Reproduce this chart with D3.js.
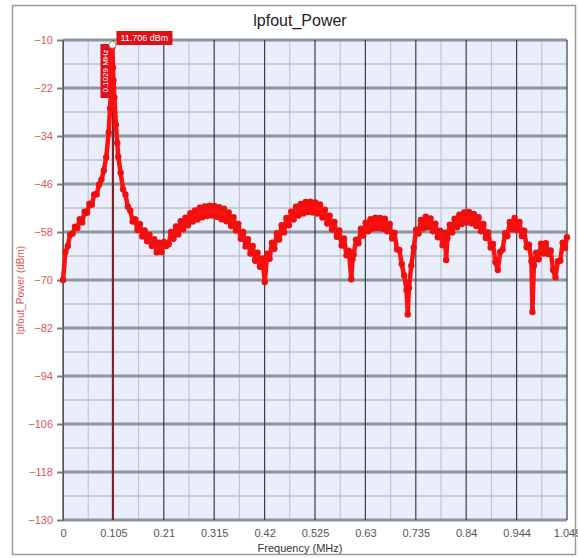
<!DOCTYPE html>
<html>
<head>
<meta charset="utf-8">
<script src="https://cdn.jsdelivr.net/npm/d3@7"></script>
<style>
  body { margin: 0; background: #fff; }
  svg { display: block; font-family: "Liberation Sans", Arial, sans-serif; }
</style>
</head>
<body>
<div id="app"></div>
<script>
// sweep (MHz / dBm)
const freqMHz = [
  0, 0.005, 0.010, 0.015, 0.020, 0.025, 0.030, 0.035, 0.040, 0.045,
  0.050, 0.055, 0.060, 0.065, 0.070, 0.075, 0.080, 0.085, 0.090, 0.095,
  0.098, 0.100, 0.1015, 0.1029, 0.104, 0.105, 0.107, 0.110, 0.113, 0.115,
  0.120, 0.125, 0.130, 0.135, 0.140, 0.145, 0.150, 0.155, 0.160, 0.165,
  0.170, 0.175, 0.180, 0.185, 0.190, 0.195, 0.200, 0.205, 0.210, 0.215,
  0.220, 0.225, 0.230, 0.235, 0.240, 0.245, 0.250, 0.255, 0.260, 0.265,
  0.270, 0.275, 0.280, 0.285, 0.290, 0.295, 0.300, 0.305, 0.310, 0.315,
  0.320, 0.325, 0.330, 0.335, 0.340, 0.345, 0.350, 0.355, 0.360, 0.365,
  0.370, 0.375, 0.380, 0.385, 0.390, 0.395, 0.400, 0.405, 0.410, 0.415,
  0.420, 0.425, 0.430, 0.435, 0.440, 0.445, 0.450, 0.455, 0.460, 0.465,
  0.470, 0.475, 0.480, 0.485, 0.490, 0.495, 0.500, 0.505, 0.510, 0.515,
  0.520, 0.525, 0.530, 0.535, 0.540, 0.545, 0.550, 0.555, 0.560, 0.565,
  0.570, 0.575, 0.580, 0.585, 0.590, 0.595, 0.600, 0.6025, 0.605, 0.610,
  0.615, 0.620, 0.625, 0.630, 0.635, 0.640, 0.645, 0.650, 0.655, 0.660,
  0.665, 0.670, 0.675, 0.680, 0.685, 0.690, 0.695, 0.700, 0.705, 0.710,
  0.715, 0.7175, 0.720, 0.725, 0.730, 0.735, 0.740, 0.745, 0.750, 0.755,
  0.760, 0.765, 0.770, 0.775, 0.780, 0.785, 0.790, 0.795, 0.7975, 0.800,
  0.805, 0.810, 0.815, 0.820, 0.825, 0.830, 0.835, 0.840, 0.845, 0.850,
  0.855, 0.860, 0.865, 0.870, 0.875, 0.880, 0.885, 0.890, 0.895, 0.900,
  0.905, 0.910, 0.915, 0.920, 0.925, 0.930, 0.935, 0.940, 0.945, 0.950,
  0.955, 0.960, 0.965, 0.970, 0.975, 0.977, 0.980, 0.985, 0.990, 0.995,
  1.000, 1.005, 1.010, 1.015, 1.020, 1.025, 1.030, 1.035, 1.040, 1.045,
  1.049
];
const powerDbm = [
  -70.0, -63.0, -61.5, -58.6, -58.4, -56.7, -57.0, -54.8, -55.6, -52.9,
  -53.2, -50.9, -51.2, -48.6, -48.6, -46.2, -44.9, -42.6, -39.3, -33.2,
  -27.1, -22.4, -16.6, -11.706, -16.9, -20.1, -24.4, -31.1, -35.8, -39.2,
  -43.2, -47.3, -48.6, -51.7, -52.6, -55.4, -54.8, -57.5, -56.0, -59.1,
  -57.6, -60.3, -58.7, -61.5, -59.8, -63.1, -60.7, -63.0, -60.5, -61.5,
  -61.0, -58.0, -59.7, -56.6, -58.6, -55.3, -57.3, -54.4, -56.3, -53.3,
  -55.4, -52.6, -54.9, -51.9, -54.3, -51.6, -54.0, -51.4, -53.9, -51.5,
  -54.2, -51.8, -54.8, -52.2, -55.3, -53.1, -56.5, -54.3, -57.6, -56.0,
  -59.7, -58.0, -61.6, -59.8, -63.4, -61.5, -65.2, -63.2, -66.7, -64.6,
  -70.5, -63.4, -64.7, -60.7, -62.2, -58.3, -59.9, -56.3, -58.1, -54.5,
  -56.3, -52.9, -54.9, -51.7, -53.9, -51.0, -53.4, -50.5, -53.0, -50.4,
  -53.1, -50.6, -53.4, -51.1, -54.4, -52.4, -55.9, -53.9, -57.4, -55.5,
  -59.2, -57.6, -61.4, -59.6, -63.8, -62.7, -69.8, -64.8, -63.6, -59.9,
  -60.8, -57.2, -58.9, -55.7, -57.8, -54.8, -57.2, -54.4, -57.0, -54.5,
  -57.2, -54.7, -57.8, -56.0, -59.6, -58.2, -62.3, -62.5, -66.0, -68.8,
  -72.5, -78.6, -72.0, -66.4, -61.9, -57.4, -58.4, -55.0, -57.1, -54.2,
  -56.8, -54.6, -57.8, -55.9, -59.3, -57.7, -61.3, -58.2, -65.0, -59.6,
  -56.2, -58.1, -54.7, -56.8, -53.7, -56.0, -53.1, -55.6, -53.0, -55.8,
  -53.5, -56.5, -54.3, -57.8, -56.0, -59.5, -58.1, -61.9, -61.0, -65.5,
  -67.5, -63.0, -62.4, -58.3, -59.0, -55.5, -57.3, -54.5, -57.5, -55.5,
  -59.0, -57.7, -61.8, -61.2, -65.3, -78.0, -66.5, -63.2, -64.8, -60.9,
  -63.4, -60.8, -63.5, -62.6, -67.5, -69.3, -65.3, -65.2, -60.7, -62.0,
  -59.3
];
const xTickValues = [0, 0.1049, 0.2098, 0.3147, 0.4196, 0.5245, 0.6294, 0.7343, 0.8392, 0.9441, 1.049];
const xTickLabels = ["0", "0.105", "0.21", "0.315", "0.42", "0.525", "0.63", "0.735", "0.84", "0.944", "1.049"];
const yTickValues = [-10, -22, -34, -46, -58, -70, -82, -94, -106, -118, -130];
const markerFreq = 0.1029;
const markerPower = -11.706;

const w = 578, h = 558;
const plotL = 63, plotR = 567, plotT = 40, plotB = 520;

const svg = d3.select("#app")
  .append("svg")
  .attr("width", w)
  .attr("height", h);

const xScale = d3.scaleLinear().domain([0, 1.049]).range([plotL, plotR]);
const yScale = d3.scaleLinear().domain([-130, -10]).range([plotB, plotT]);

// outer frame
svg.append("rect")
  .attr("x", 12.5).attr("y", 5.5)
  .attr("width", 563).attr("height", 549)
  .attr("fill", "none")
  .attr("stroke", "#9a9a9a")
  .attr("stroke-width", 1.5);

svg.append("text")
  .attr("x", 300).attr("y", 26)
  .attr("text-anchor", "middle")
  .attr("font-size", 16)
  .attr("fill", "#222")
  .text("lpfout_Power");

// plot background
svg.append("rect")
  .attr("x", plotL).attr("y", plotT)
  .attr("width", plotR - plotL).attr("height", plotB - plotT)
  .attr("fill", "#e9eefa");

const grid = svg.append("g");

// minor horizontal grid (half steps)
const yMinor = d3.range(0, yTickValues.length - 1).map(i => yTickValues[i] - 6);
grid.selectAll(".hminor")
  .data(yMinor)
  .enter().append("line")
  .attr("x1", plotL).attr("x2", plotR)
  .attr("y1", d => yScale(d)).attr("y2", d => yScale(d))
  .attr("stroke", "#c6cbd6")
  .attr("stroke-width", 2);

// minor vertical grid
const xMinor = d3.range(0, xTickValues.length - 1).map(i => (xTickValues[i] + xTickValues[i + 1]) / 2);
grid.selectAll(".vminor")
  .data(xMinor)
  .enter().append("line")
  .attr("x1", d => xScale(d)).attr("x2", d => xScale(d))
  .attr("y1", plotT).attr("y2", plotB)
  .attr("stroke", "#b9bdc8")
  .attr("stroke-width", 1);

// major horizontal grid
grid.selectAll(".hmajor")
  .data(yTickValues)
  .enter().append("line")
  .attr("x1", plotL).attr("x2", plotR)
  .attr("y1", d => yScale(d)).attr("y2", d => yScale(d))
  .attr("stroke", "#8f959e")
  .attr("stroke-width", 3);

// major vertical grid
grid.selectAll(".vmajor")
  .data(xTickValues)
  .enter().append("line")
  .attr("x1", d => xScale(d)).attr("x2", d => xScale(d))
  .attr("y1", plotT).attr("y2", plotB)
  .attr("stroke", "#3a3d44")
  .attr("stroke-width", 1.2);

// axes
const yAxis = d3.axisLeft(yScale)
  .tickValues(yTickValues)
  .tickSize(6)
  .tickPadding(4);
const gy = svg.append("g")
  .attr("transform", `translate(${plotL},0)`)
  .call(yAxis);
gy.select(".domain").attr("stroke", "#555");
gy.selectAll(".tick line").attr("stroke", "#777").attr("stroke-width", 2);
gy.selectAll(".tick text")
  .attr("fill", "#d9585a")
  .attr("font-size", 11)
  .attr("font-family", "Liberation Sans, Arial, sans-serif");

const xAxis = d3.axisBottom(xScale)
  .tickValues(xTickValues)
  .tickFormat((d, i) => xTickLabels[i])
  .tickSize(0)
  .tickPadding(9);
const gx = svg.append("g")
  .attr("transform", `translate(0,${plotB})`)
  .call(xAxis);
gx.select(".domain").remove();
gx.selectAll(".tick text")
  .attr("fill", "#555")
  .attr("font-size", 11)
  .attr("font-family", "Liberation Sans, Arial, sans-serif");

svg.append("text")
  .attr("x", 300).attr("y", 552)
  .attr("text-anchor", "middle")
  .attr("font-size", 11)
  .attr("fill", "#333")
  .text("Frequency (MHz)");

svg.append("text")
  .attr("transform", "translate(24,290) rotate(-90)")
  .attr("text-anchor", "middle")
  .attr("font-size", 10)
  .attr("fill", "#d9585a")
  .text("lpfout_Power (dBm)");

// marker line
svg.append("line")
  .attr("x1", xScale(markerFreq)).attr("x2", xScale(markerFreq))
  .attr("y1", yScale(markerPower)).attr("y2", plotB)
  .attr("stroke", "#b01010")
  .attr("stroke-width", 1.2);

// series
const data = freqMHz.map((f, i) => [f, powerDbm[i]]);
const line = d3.line()
  .x(d => xScale(d[0]))
  .y(d => yScale(d[1]));

svg.append("path")
  .datum(data)
  .attr("d", line)
  .attr("fill", "none")
  .attr("stroke", "#ff1010")
  .attr("stroke-width", 4.5)
  .attr("stroke-linejoin", "round");

svg.selectAll(".pt")
  .data(data)
  .enter().append("circle")
  .attr("cx", d => xScale(d[0]))
  .attr("cy", d => yScale(d[1]))
  .attr("r", 3.2)
  .attr("fill", "#ee0f0f");

// marker labels
const mx = xScale(markerFreq), my = yScale(markerPower);
svg.append("rect")
  .attr("x", mx + 4).attr("y", plotT - 9)
  .attr("width", 56).attr("height", 14)
  .attr("fill", "#e0101a");
svg.append("text")
  .attr("x", mx + 32).attr("y", plotT + 1)
  .attr("text-anchor", "middle")
  .attr("font-size", 9)
  .attr("fill", "#fff")
  .text("11.706 dBm");

svg.append("rect")
  .attr("x", mx - 12).attr("y", plotT + 4)
  .attr("width", 10).attr("height", 54)
  .attr("fill", "#e0101a");
svg.append("text")
  .attr("transform", `translate(${mx - 4},${plotT + 31}) rotate(-90)`)
  .attr("text-anchor", "middle")
  .attr("font-size", 8)
  .attr("fill", "#fff")
  .text("0.1029 MHz");

svg.append("circle")
  .attr("cx", mx).attr("cy", my - 2)
  .attr("r", 3.5)
  .attr("fill", "#fff")
  .attr("stroke", "#888")
  .attr("stroke-width", 1);
</script>
</body>
</html>
